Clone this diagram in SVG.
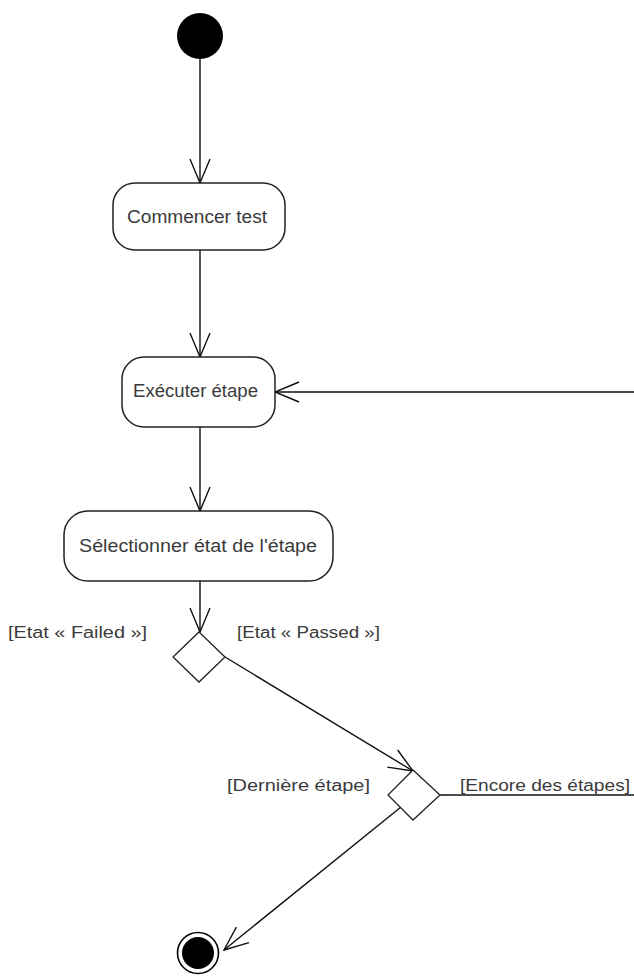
<svg xmlns="http://www.w3.org/2000/svg" width="634" height="979" viewBox="0 0 634 979">
  <style>
    .edge { fill: none; stroke: #111; stroke-width: 1.4; }
    .box { fill: #fff; stroke: #222; stroke-width: 1.5; }
    .dia { fill: #fff; stroke: #222; stroke-width: 1.3; }
    .lbl { font-family: "Liberation Sans", "DejaVu Sans", sans-serif; font-size: 16px; fill: #3a3a3a; }
    .act { font-size: 17.5px; }
  </style>
  <defs>
    <marker id="open" viewBox="-26 -13 28 26" refX="0" refY="0" markerWidth="28" markerHeight="26" markerUnits="userSpaceOnUse" orient="auto">
      <path d="M-24,-10 L0,0 L-24,10" fill="none" stroke="#111" stroke-width="1.4"/>
    </marker>
  </defs>

  <g id="connectors">
    <path class="edge" d="M200,58 L200,183" marker-end="url(#open)"/>
    <path class="edge" d="M200,250 L200,357" marker-end="url(#open)"/>
    <path class="edge" d="M634,392 L275,392" marker-end="url(#open)"/>
    <path class="edge" d="M200,427 L200,511" marker-end="url(#open)"/>
    <path class="edge" d="M200,581 L200,632" marker-end="url(#open)"/>
    <path class="edge" d="M225,657 L413,771" marker-end="url(#open)"/>
    <path class="edge" d="M440,795 L634,795"/>
    <path class="edge" d="M401,807 L224,950" marker-end="url(#open)"/>
  </g>

  <g id="start">
    <circle cx="200" cy="36" r="23" fill="#000"/>
  </g>

  <g id="commencer">
    <rect class="box" x="113" y="183" width="172" height="67" rx="22"/>
    <text class="lbl act" x="127" y="223" textLength="140" lengthAdjust="spacingAndGlyphs">Commencer test</text>
  </g>

  <g id="executer">
    <rect class="box" x="122" y="357" width="153" height="70" rx="22"/>
    <text class="lbl act" x="133" y="397" textLength="125" lengthAdjust="spacingAndGlyphs">Exécuter étape</text>
  </g>

  <g id="selectionner">
    <rect class="box" x="64" y="511" width="269" height="70" rx="24"/>
    <text class="lbl act" x="79" y="552" textLength="238" lengthAdjust="spacingAndGlyphs">Sélectionner état de l'étape</text>
  </g>

  <g id="decision1">
    <path class="dia" d="M199,632 L225,657 L199,682 L173,657 Z"/>
    <text class="lbl" x="8" y="638" textLength="139" lengthAdjust="spacingAndGlyphs">[Etat « Failed »]</text>
    <text class="lbl" x="237" y="638" textLength="143" lengthAdjust="spacingAndGlyphs">[Etat « Passed »]</text>
  </g>

  <g id="decision2">
    <path class="dia" d="M413,770 L440,795 L413,820 L388,795 Z"/>
    <text class="lbl" x="227" y="791" textLength="143" lengthAdjust="spacingAndGlyphs">[Dernière étape]</text>
    <text class="lbl" x="460" y="791" textLength="170" lengthAdjust="spacingAndGlyphs">[Encore des étapes]</text>
  </g>

  <g id="end">
    <circle cx="198" cy="953" r="20.5" fill="#fff" stroke="#000" stroke-width="1.6"/>
    <circle cx="198" cy="953" r="16" fill="#000"/>
  </g>
</svg>
